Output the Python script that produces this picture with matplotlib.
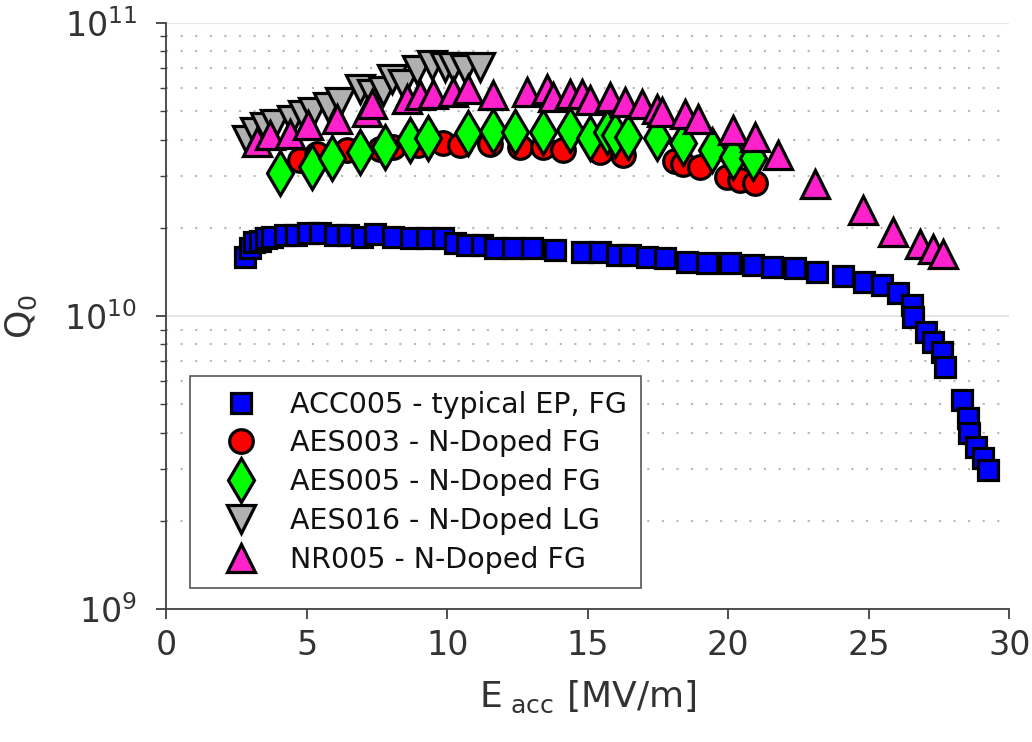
import numpy as np
import matplotlib
matplotlib.use("Agg")
import matplotlib.pyplot as plt
import matplotlib.ticker as mtick

plt.rcParams['font.family'] = ['DejaVu Sans']
plt.rcParams['mathtext.default'] = 'regular'

# ACC005 - typical EP, FG
acc005_e = [2.81, 2.99, 3.13, 3.35, 3.56, 3.77, 4.23, 4.63, 5.05, 5.48, 6.01, 6.48, 6.98, 7.44,
            8.08, 8.72, 9.29, 9.86, 10.28, 10.71, 11.25, 11.71, 12.35, 13.02, 13.84, 14.80,
            15.44, 16.05, 16.51, 17.12, 17.76, 18.54, 19.25, 20.07, 20.89, 21.57, 22.38, 23.17,
            24.09, 24.84, 25.48, 26.05, 26.55, 26.58, 27.05, 27.30, 27.62, 27.72, 28.33, 28.54,
            28.58, 28.83, 29.07, 29.25]
acc005_q = [1.59, 1.71, 1.79, 1.80, 1.85, 1.86, 1.89, 1.89, 1.92, 1.92, 1.89, 1.89, 1.86, 1.90,
            1.86, 1.85, 1.85, 1.85, 1.77, 1.75, 1.75, 1.71, 1.71, 1.71, 1.68, 1.65,
            1.65, 1.61, 1.61, 1.59, 1.58, 1.53, 1.52, 1.52, 1.49, 1.47, 1.46, 1.41,
            1.37, 1.31, 1.28, 1.20, 1.09, 0.993, 0.881, 0.815, 0.754, 0.670, 0.517, 0.449,
            0.399, 0.357, 0.328, 0.298]

# AES003 - N-Doped FG
aes003_e = [4.77, 5.37, 6.44, 7.62, 8.08, 8.97, 9.86, 10.46, 11.53, 12.60, 13.42, 14.13,
            15.44, 16.26, 18.11, 18.40, 19.00, 19.96, 20.43, 20.96]
aes003_q = [3.40, 3.57, 3.68, 3.71, 3.77, 3.83, 3.89, 3.83, 3.86, 3.77, 3.77, 3.68,
            3.62, 3.54, 3.37, 3.30, 3.22, 2.98, 2.91, 2.84]

# AES005 - N-Doped FG
aes005_e = [4.06, 5.20, 5.91, 6.90, 7.79, 8.68, 9.32, 10.75, 11.64, 12.42, 13.42, 14.38,
            15.09, 15.69, 15.98, 16.44, 17.47, 18.40, 19.43, 20.18, 20.89]
aes005_q = [3.07, 3.22, 3.46, 3.62, 3.77, 3.98, 4.04, 4.21, 4.27, 4.24, 4.24, 4.31,
            4.04, 4.24, 4.14, 4.07, 4.04, 3.89, 3.68, 3.48, 3.46]

# AES016 - N-Doped LG
aes016_e = [2.88, 3.17, 3.52, 3.88, 4.48, 4.88, 5.23, 5.77, 6.19, 6.90, 7.33, 7.72,
            8.04, 8.43, 8.93, 9.47, 9.93, 10.21, 10.64, 11.17]
aes016_q = [3.98, 4.24, 4.41, 4.52, 4.66, 4.84, 4.96, 5.16, 5.37, 5.94, 5.71, 5.85,
            6.43, 6.18, 6.90, 7.17, 7.06, 7.06, 6.95, 7.06]

# NR005 - N-Doped FG
nr005_e = [3.24, 3.70, 4.41, 5.05, 6.09, 7.15, 7.33, 8.58, 9.04, 9.50, 10.21, 10.75,
           11.64, 12.85, 13.56, 13.77, 14.38, 14.80, 15.09, 15.80, 16.33, 16.94, 17.47,
           17.65, 18.47, 18.93, 20.18, 20.96, 21.78, 23.10, 24.80, 25.87, 26.83, 27.30, 27.65]
nr005_q = [3.92, 4.14, 4.18, 4.48, 4.70, 4.96, 5.28, 5.50, 5.66, 5.71, 5.80, 5.94,
           5.66, 5.80, 5.94, 5.58, 5.71, 5.71, 5.45, 5.58, 5.37, 5.28, 5.08,
           4.96, 4.89, 4.70, 4.31, 4.07, 3.54, 2.82, 2.30, 1.93, 1.76, 1.69, 1.63]

series = [
    (acc005_e, acc005_q, 's', '#0000ff', 15, 'ACC005 - typical EP, FG'),
    (aes003_e, aes003_q, 'o', '#ff0000', 17, 'AES003 - N-Doped FG'),
    (aes005_e, aes005_q, 'd', '#00ff00', 22, 'AES005 - N-Doped FG'),
    (aes016_e, aes016_q, 'v', '#b0b0b0', 20, 'AES016 - N-Doped LG'),
    (nr005_e, nr005_q, '^', '#ff22cc', 20, 'NR005 - N-Doped FG'),
]

fig = plt.figure(figsize=(10.32, 7.42), dpi=100)
ax = fig.add_axes([0.161, 0.179, 0.817, 0.790])

for e, q, m, c, ms, lab in series:
    ax.plot(e, np.array(q) * 1e10, linestyle='none', marker=m, markersize=ms,
            markerfacecolor=c, markeredgecolor='black', markeredgewidth=2.3, label=lab)

ax.set_yscale('log')
ax.set_xlim(0, 30)
ax.set_ylim(1e9, 1e11)
ax.set_xticks([0, 5, 10, 15, 20, 25, 30])

# grid: solid at decades, dotted in between
ax.yaxis.grid(True, which='major', color='#e6e6e6', linestyle='-', linewidth=1.5)
ax.yaxis.grid(True, which='minor', color='#b8b8b8', linestyle=(0, (1, 6)), linewidth=1.5)
ax.xaxis.grid(False)
ax.set_axisbelow(True)

ax.yaxis.set_major_formatter(mtick.FuncFormatter(lambda v, p: r'$10^{%d}$' % round(np.log10(v))))
ax.yaxis.set_minor_formatter(mtick.NullFormatter())

for side in ['top', 'right']:
    ax.spines[side].set_visible(False)
for side in ['left', 'bottom']:
    ax.spines[side].set_color('#404040')
    ax.spines[side].set_linewidth(1.3)

ax.tick_params(axis='both', which='major', direction='out', length=7, width=1.3,
               color='#404040', labelsize=24, labelcolor='#333333', pad=7)
ax.tick_params(axis='y', which='major', pad=14)
ax.tick_params(axis='y', which='minor', direction='out', length=4, width=1.0, color='#404040')

ax.set_xlabel(r'E$_{\ acc}$ [MV/m]', fontsize=26, color='#333333', labelpad=12)
ax.set_ylabel(r'Q$_0$', fontsize=26, color='#333333', labelpad=18)

leg = ax.legend(loc='lower left', bbox_to_anchor=(0.028, 0.036), fontsize=20.5,
                frameon=True, fancybox=False, edgecolor='#555555', framealpha=1,
                handletextpad=0.42, borderpad=0.5, labelspacing=0.38, handlelength=2.6,
                borderaxespad=0)
leg.get_frame().set_linewidth(1.2)
for t in leg.get_texts():
    t.set_color('#111111')

fig.savefig('out.png', dpi=100)
